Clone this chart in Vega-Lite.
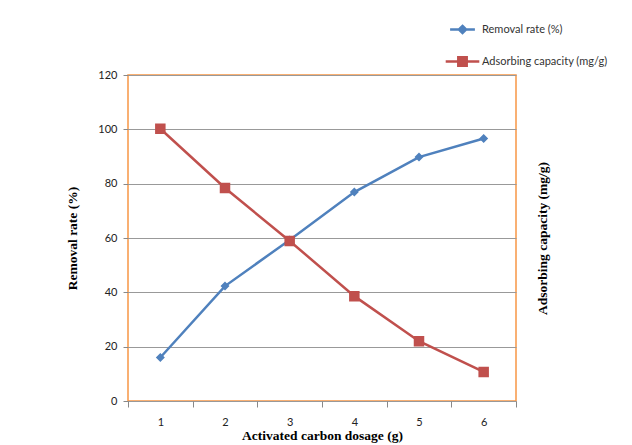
{
  "$schema": "https://vega.github.io/schema/vega-lite/v6.json",
  "width": 388,
  "height": 326,
  "autosize": {"type": "none"},
  "padding": {"left": 128, "top": 75, "right": 116, "bottom": 44},
  "background": "white",
  "config": {
    "view": {"stroke": "#F79646", "strokeWidth": 1.5},
    "font": "Lato"
  },
  "data": {
    "values": [
      {"dose": 1, "series": "Removal rate (%)", "value": 16.0},
      {"dose": 2, "series": "Removal rate (%)", "value": 42.3},
      {"dose": 3, "series": "Removal rate (%)", "value": 59.3},
      {"dose": 4, "series": "Removal rate (%)", "value": 76.9},
      {"dose": 5, "series": "Removal rate (%)", "value": 89.8},
      {"dose": 6, "series": "Removal rate (%)", "value": 96.6},
      {"dose": 1, "series": "Adsorbing capacity (mg/g)", "value": 100.2},
      {"dose": 2, "series": "Adsorbing capacity (mg/g)", "value": 78.4},
      {"dose": 3, "series": "Adsorbing capacity (mg/g)", "value": 58.9},
      {"dose": 4, "series": "Adsorbing capacity (mg/g)", "value": 38.6},
      {"dose": 5, "series": "Adsorbing capacity (mg/g)", "value": 22.0},
      {"dose": 6, "series": "Adsorbing capacity (mg/g)", "value": 10.7}
    ]
  },
  "resolve": {"axis": {"y": "independent"}},
  "layer": [
    {
      "mark": {"type": "line", "strokeWidth": 2.5},
      "encoding": {
        "x": {
          "field": "dose", "type": "ordinal", "bandPosition": 0.5,
          "scale": {"type": "band", "paddingInner": 0, "paddingOuter": 0},
          "axis": {
            "tickBand": "extent", "labelAngle": 0, "domain": false,
            "tickColor": "#888888", "tickSize": 6, "labelPadding": 9,
            "labelFont": "Lato", "labelFontSize": 11, "labelColor": "#222222",
            "title": "Activated carbon dosage (g)", "titleFont": "Liberation Serif",
            "titleFontSize": 13.5, "titleFontWeight": "bold", "titleColor": "#000000", "titlePadding": 1
          }
        },
        "y": {
          "field": "value", "type": "quantitative",
          "scale": {"domain": [0, 120], "nice": false},
          "axis": {
            "orient": "left", "values": [0, 20, 40, 60, 80, 100, 120], "domain": false,
            "grid": true, "gridColor": "#999999", "gridWidth": 1, "gridOpacity": 1,
            "tickColor": "#888888", "tickSize": 5, "labelPadding": 6,
            "labelFont": "Lato", "labelFontSize": 11, "labelColor": "#222222",
            "title": "Removal rate (%)", "titleFont": "Liberation Serif",
            "titleFontSize": 13.5, "titleFontWeight": "bold", "titleColor": "#000000", "titlePadding": 18
          }
        },
        "color": {
          "field": "series", "type": "nominal",
          "scale": {"domain": ["Removal rate (%)", "Adsorbing capacity (mg/g)"], "range": ["#4F81BD", "#C0504D"]}
        }
      }
    },
    {
      "mark": {"type": "point", "filled": true, "opacity": 1},
      "encoding": {
        "x": {"field": "dose", "type": "ordinal", "bandPosition": 0.5},
        "y": {
          "field": "value", "type": "quantitative",
          "axis": {
            "orient": "right", "labels": false, "ticks": false, "domain": false, "grid": false,
            "title": "Adsorbing capacity (mg/g)", "titleFont": "Liberation Serif",
            "titleFontSize": 13.5, "titleFontWeight": "bold", "titleColor": "#000000",
            "titlePadding": 33, "titleAngle": 270
          }
        },
        "size": {"value": 100},
        "color": {
          "field": "series", "type": "nominal",
          "legend": {
            "orient": "none", "legendX": 329, "legendY": -51, "title": null,
            "symbolSize": 64, "symbolStrokeWidth": 2.5, "labelOffset": 14,
            "labelFont": "Lato", "labelFontSize": 11, "labelColor": "#333333",
            "rowPadding": 13,
            "encode": {
              "symbols": {"update": {"stroke": {"scale": "color", "field": "value"}, "strokeWidth": {"value": 2.5}}}
            }
          }
        },
        "shape": {
          "field": "series", "type": "nominal",
          "scale": {
            "domain": ["Removal rate (%)", "Adsorbing capacity (mg/g)"],
            "range": [
              "M-3.1,0H3.1M0,-0.9L0.9,0L0,0.9L-0.9,0Z",
              "M-4.2,0H4.2M-1.05,-1.05H1.05V1.05H-1.05Z"
            ]
          },
          "legend": {
            "orient": "none", "legendX": 329, "legendY": -51, "title": null
          }
        }
      }
    }
  ]
}
